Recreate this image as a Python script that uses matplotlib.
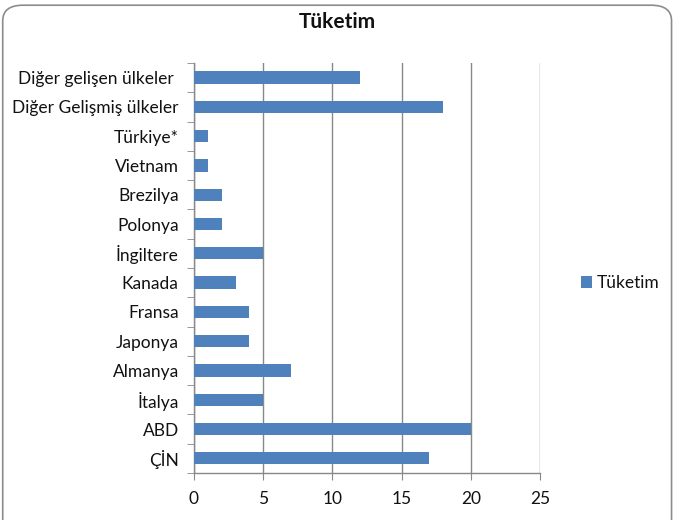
import numpy as np
import matplotlib
matplotlib.use("Agg")
import matplotlib.pyplot as plt
from matplotlib.patches import FancyBboxPatch
from matplotlib.ticker import FixedLocator, MultipleLocator

plt.rcParams['font.family'] = ['Lato', 'DejaVu Sans']

countries = ["ÇİN", "ABD", "İtalya", "Almanya", "Japonya", "Fransa", "Kanada",
             "İngiltere", "Polonya", "Brezilya", "Vietnam", "Türkiye*",
             "Diğer Gelişmiş ülkeler", "Diğer gelişen ülkeler "]
tuketim = [17, 20, 5, 7, 4, 4, 3, 5, 2, 2, 1, 1, 18, 12]

bar_color = "#4F81BD"
grid_color = "#888888"
text_color = "#111111"

fig = plt.figure(figsize=(6.79, 5.20), dpi=100)
ax = fig.add_axes([0.2857, 0.0904, 0.5096, 0.7886])

y = np.arange(len(countries))
ax.barh(y, tuketim, height=0.42, color=bar_color, label="Tüketim", zorder=3)

ax.set_xlim(0, 25)
ax.set_ylim(-0.5, len(countries) - 0.5)
ax.xaxis.set_major_locator(MultipleLocator(5))
ax.grid(axis='x', color=grid_color, linewidth=1.0, zorder=0)

ax.set_yticks(y)
ax.set_yticklabels(countries, fontsize=12.5, color=text_color)
ax.yaxis.set_minor_locator(FixedLocator(np.arange(-0.5, len(countries), 1)))
ax.tick_params(axis='y', which='major', length=0, pad=11)
ax.tick_params(axis='y', which='minor', length=5, color=grid_color)
ax.tick_params(axis='x', which='major', length=5, color=grid_color,
               labelsize=12.5, labelcolor=text_color, pad=8)

for side in ['top', 'right']:
    ax.spines[side].set_visible(False)
for side in ['left', 'bottom']:
    ax.spines[side].set_color(grid_color)
    ax.spines[side].set_linewidth(1.0)

fig.text(0.497, 0.957, "Tüketim", ha='center', va='center',
         fontsize=15, fontweight='bold', color=text_color)

ax.legend(loc='center left', bbox_to_anchor=(1.094, 0.463), frameon=False,
          fontsize=12.5, handlelength=0.6, handleheight=0.6, handletextpad=0.3,
          borderpad=0, labelcolor=text_color)

frame = FancyBboxPatch((0.004, -0.05), 0.985, 1.04,
                       boxstyle="round,pad=0,rounding_size=0.03",
                       transform=fig.transFigure, facecolor='none',
                       edgecolor="#8c8c8c", linewidth=1.2)
fig.patches.append(frame)

fig.savefig("out.png", dpi=100)
